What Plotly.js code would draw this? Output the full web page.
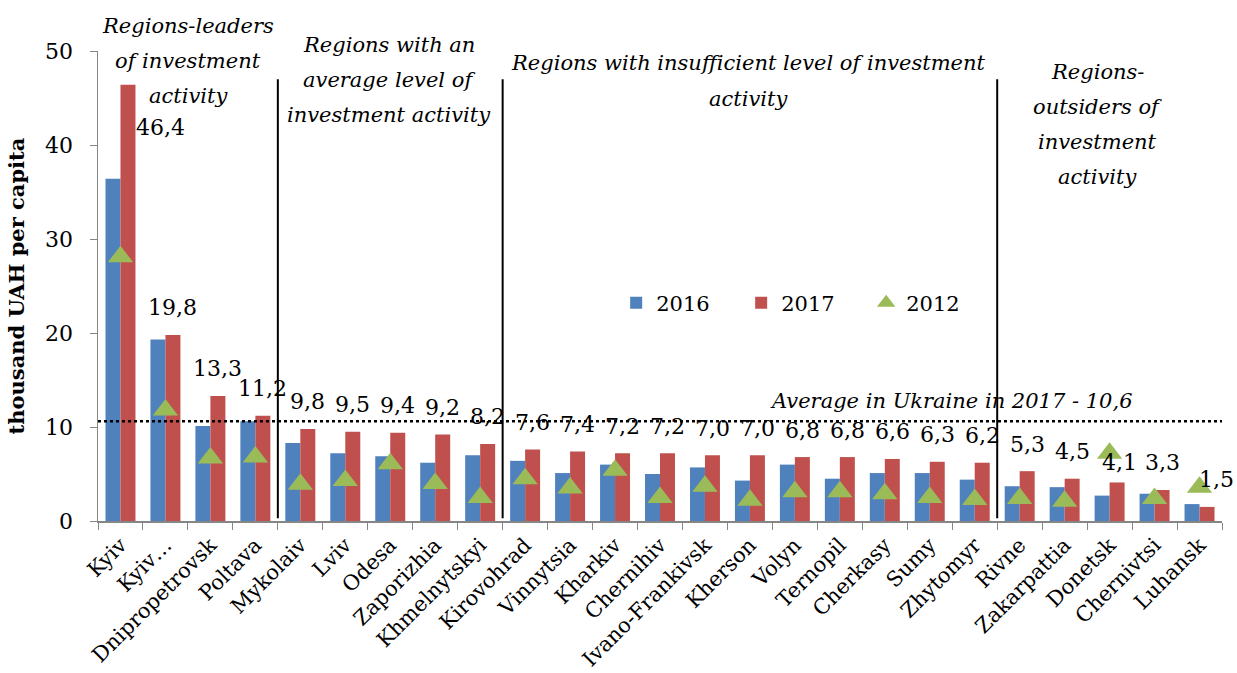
<!DOCTYPE html>
<html>
<head>
<meta charset="utf-8">
<script src="https://cdn.plot.ly/plotly-3.0.1.min.js"></script>
<style>html,body{margin:0;padding:0;background:#fff;}#chart{width:1237px;height:673px;}</style>
</head>
<body>
<div id="chart"></div>
<script>
const categories = ["Kyiv","Kyiv…","Dnipropetrovsk","Poltava","Mykolaiv","Lviv","Odesa","Zaporizhia","Khmelnytskyi","Kirovohrad","Vinnytsia","Kharkiv","Chernihiv","Ivano-Frankivsk","Kherson","Volyn","Ternopil","Cherkasy","Sumy","Zhytomyr","Rivne","Zakarpattia","Donetsk","Chernivtsi","Luhansk"];
const values2016 = [36.4,19.3,10.1,10.6,8.3,7.2,6.9,6.2,7.0,6.4,5.1,6.0,5.0,5.7,4.3,6.0,4.5,5.1,5.1,4.4,3.7,3.6,2.7,2.9,1.8];
const values2017 = [46.4,19.8,13.3,11.2,9.8,9.5,9.4,9.2,8.2,7.6,7.4,7.2,7.2,7.0,7.0,6.8,6.8,6.6,6.3,6.2,5.3,4.5,4.1,3.3,1.5];
const values2012 = [28.1,11.8,6.7,6.8,3.9,4.3,6.1,4.0,2.5,4.5,3.5,5.4,2.5,3.7,2.2,3.1,3.1,2.9,2.5,2.3,2.4,2.1,7.2,2.4,3.6];
const seriesNames = ["2016","2017","2012"];
const averageUkraine2017 = 10.6;
const averageLabel = "Average in Ukraine in 2017 - 10,6";
const groupBoundaries = [3.5, 8.5, 19.5];
const groupTitles = [
  {lines:["Regions-leaders","of investment","activity"], cx:188, ys:[26,61,96]},
  {lines:["Regions with an","average level of","investment activity"], cx:389, ys:[45,80,115]},
  {lines:["Regions with insufficient level of investment","activity"], cx:748, ys:[63,99]},
  {lines:["Regions-","outsiders of","investment","activity"], cx:1097, ys:[72,107,142,177]}
];

const FONT = "DejaVu Serif";
// plot area in pixels
const L = 98, R = 15, T = 51, B = 152, W = 1237, H = 673;
const PW = W - L - R, PH = H - T - B;
const px2x = p => (p - L) / PW;
const py2y = p => (H - B - p) / PH;

const traces = [
  {type:'bar', name:seriesNames[0], x:categories, y:values2016, marker:{color:'#4F81BD'}},
  {type:'bar', name:seriesNames[1], x:categories, y:values2017, marker:{color:'#C0504D'}},
  {type:'scatter', mode:'markers', name:seriesNames[2], x:categories, y:values2012,
   marker:{symbol:'triangle-up', color:'#9BBB59', size:22}}
];

const fmt = v => v.toFixed(1).replace('.', ',');
const annotations = [];
values2017.forEach((v, i) => {
  let xs = 7.5, ys = 27;
  if (i === 0) { xs = 40; ys = -43; }
  if (categories[i] === "Donetsk") { xs = 10; ys = 20; }
  if (categories[i] === "Luhansk") { xs = 17; ys = 27; }
  annotations.push({x:categories[i], y:v, xref:'x', yref:'y', text:fmt(v), showarrow:false,
    xshift:xs, yshift:ys, xanchor:'center', yanchor:'middle', font:{family:FONT, size:22, color:'#000'}});
});
groupTitles.forEach(g => {
  g.lines.forEach((t, k) => {
    annotations.push({x:px2x(g.cx), y:py2y(g.ys[k]), xref:'paper', yref:'paper', text:'<i>'+t+'</i>',
      showarrow:false, xanchor:'center', yanchor:'middle', font:{family:FONT, size:21, color:'#000'}});
  });
});
annotations.push({x:px2x(1135), y:py2y(401), xref:'paper', yref:'paper', text:'<i>'+averageLabel+'</i>',
  showarrow:false, xanchor:'right', yanchor:'middle', font:{family:FONT, size:21, color:'#000'}});

const shapes = [{type:'line', xref:'paper', yref:'y', x0:0, x1:1, y0:averageUkraine2017, y1:averageUkraine2017,
  line:{color:'#000', width:2.5, dash:'dot'}}];
groupBoundaries.forEach(b => {
  shapes.push({type:'line', xref:'x', yref:'y', x0:b, x1:b, y0:0.3, y1:47, line:{color:'#000', width:2}});
});

const layout = {
  width:W, height:H,
  margin:{l:L, r:R, t:T, b:B},
  paper_bgcolor:'#fff', plot_bgcolor:'#fff',
  font:{family:FONT, size:21, color:'#000'},
  barmode:'group', bargap:0.333, bargroupgap:0,
  showlegend:true,
  legend:{orientation:'h', x:0.461, y:py2y(303), xanchor:'left', yanchor:'middle',
    font:{family:FONT, size:21, color:'#000'}, entrywidth:80, entrywidthmode:'pixels', bgcolor:'rgba(0,0,0,0)'},
  xaxis:{type:'category', tickangle:-45, tickson:'boundaries', ticks:'outside', ticklen:7, tickcolor:'#868686',
    showline:true, linecolor:'#868686', linewidth:1.5, showgrid:false, zeroline:false, ticklabelstandoff:2,
    tickfont:{family:FONT, size:21, color:'#000'}, automargin:false, range:[-0.5, 24.5]},
  yaxis:{range:[0,50], dtick:10, ticks:'outside', ticklen:7, tickcolor:'#868686', showline:true,
    linecolor:'#868686', linewidth:1.5, showgrid:false, zeroline:false, ticklabelstandoff:12,
    tickfont:{family:FONT, size:22, color:'#000'}, automargin:false,
    title:{text:'<b>thousand UAH per capita</b>', font:{family:FONT, size:21, color:'#000'}, standoff:14}},
  annotations:annotations,
  shapes:shapes
};

Plotly.newPlot('chart', traces, layout, {displayModeBar:false, staticPlot:true});
</script>
</body>
</html>
